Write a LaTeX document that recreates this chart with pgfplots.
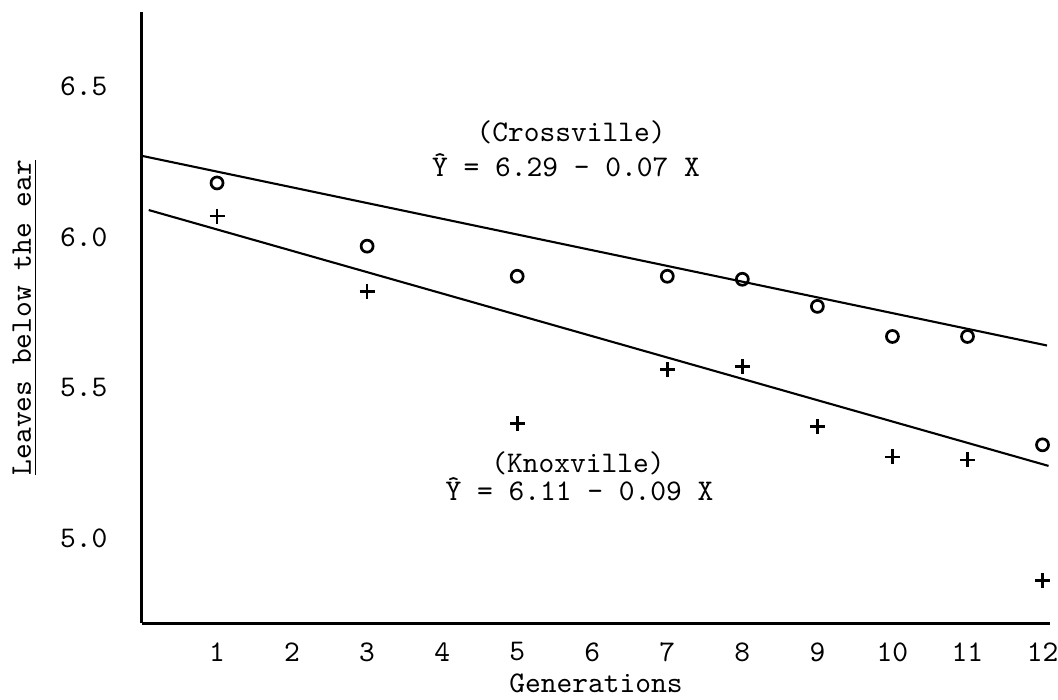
\documentclass[border=0pt]{standalone}
\usepackage{pgfplots}
\pgfplotsset{compat=1.18}

\begin{document}
\begin{tikzpicture}
\begin{axis}[
    name=main,
    scale only axis,
    width=302.67pt, height=203.67pt,
    xmin=0, xmax=12.1,
    ymin=4.718, ymax=6.748,
    axis x line*=bottom,
    axis y line*=left,
    axis line style={-, line width=1pt},
    major tick length=0pt,
    xtick={1,2,3,4,5,6,7,8,9,10,11,12},
    xticklabels={1,2,3,4,5,6,7,8,9,10,11,12},
    ytick={5.0,5.5,6.0,6.5},
    yticklabels={5.0,5.5,6.0,6.5},
    tick label style={font=\ttfamily},
    xticklabel shift=3pt,
    yticklabel shift=8pt,
    label style={font=\ttfamily},
    xlabel={Generations},
    xlabel style={at={(axis description cs:0.5,-0.098)}, anchor=center},
    ylabel={\underline{Leaves below the ear}},
    ylabel style={at={(axis description cs:-0.129,0.5)}, anchor=center},
    clip=false
]
% regression lines as drawn
\addplot[black, line width=0.7pt] coordinates {(0,6.27) (12.06,5.64)};
\addplot[black, line width=0.7pt] coordinates {(0.09,6.09) (12.08,5.24)};

% Crossville (o)
\addplot[only marks, mark=o, mark size=2pt, black, line width=0.9pt] coordinates {
    (1,6.18) (3,5.97) (5,5.87) (7,5.87) (8,5.86) (9,5.77) (10,5.67) (11,5.67) (12,5.31)
};
% Knoxville (+)
\addplot[only marks, mark=+, mark size=2.5pt, black, line width=0.9pt] coordinates {
    (1,6.07) (3,5.82) (5,5.38) (7,5.56) (8,5.57) (9,5.37) (10,5.27) (11,5.26) (12,4.86)
};

\node[font=\ttfamily] at (axis cs:5.72,6.349) {(Crossville)};
\node[font=\ttfamily] at (axis cs:5.65,6.239) {\^{Y} = 6.29 - 0.07 X};
\node[font=\ttfamily] at (axis cs:5.81,5.249) {(Knoxville)};
\node[font=\ttfamily] at (axis cs:5.83,5.163) {\^{Y} = 6.11 - 0.09 X};
\end{axis}
\pgfresetboundingbox
\path ([shift={(-47.33pt,-25.33pt)}]main.south west) rectangle ([shift={(305.33pt,207.67pt)}]main.south west);
\end{tikzpicture}
\end{document}
